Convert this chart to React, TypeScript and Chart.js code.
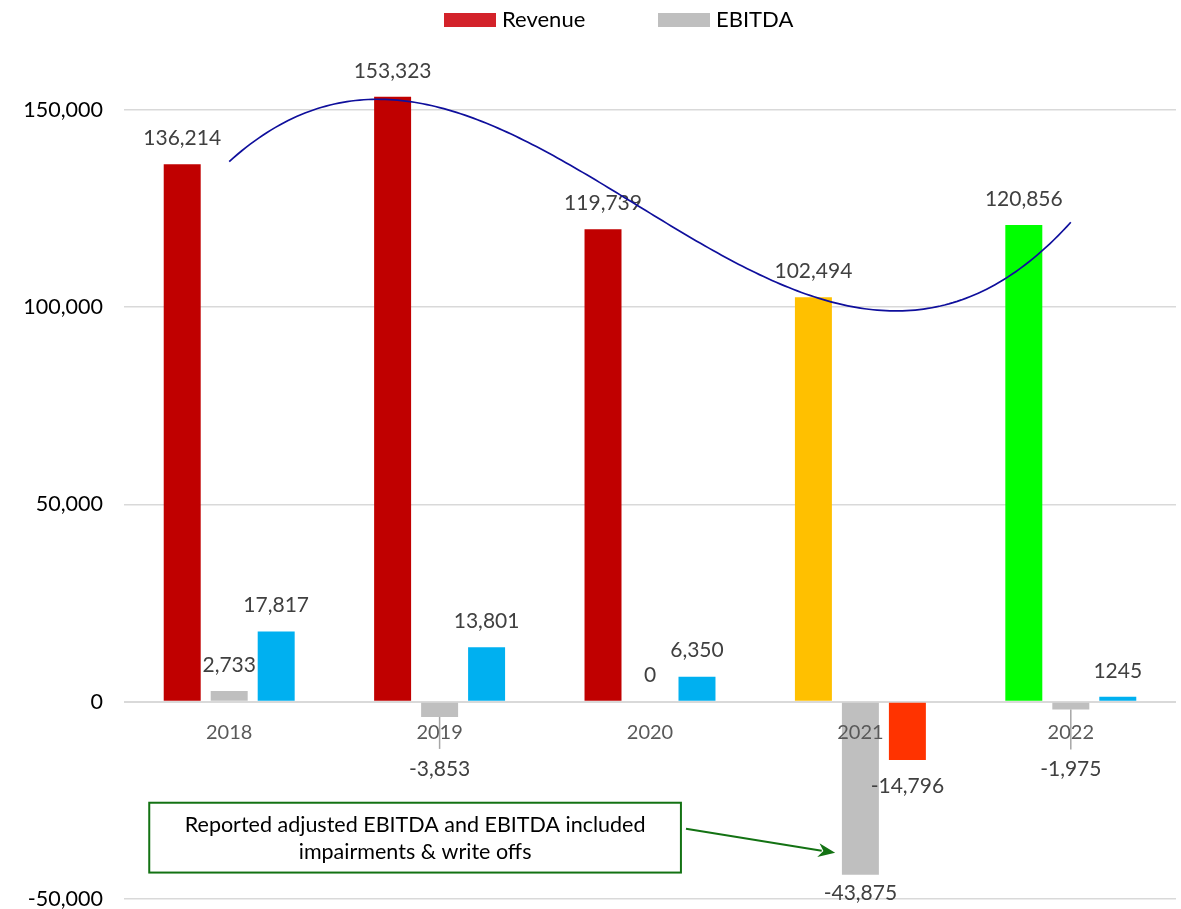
import React, { useEffect, useRef } from 'react';
import { Chart, registerables } from 'chart.js';

Chart.register(...registerables);

// ---------- data ----------
const categories = ['2018', '2019', '2020', '2021', '2022'];
const revenue = [136214, 153323, 119739, 102494, 120856];
const ebitda = [2733, -3853, 0, -43875, -1975];
const adjustedEbitda = [17817, 13801, 6350, -14796, 1245];
const adjustedEbitdaLabels = ['17,817', '13,801', '6,350', '-14,796', '1245'];
const yTicks = [-50000, 0, 50000, 100000, 150000];
const annotationLines = ['Reported adjusted EBITDA and EBITDA included', 'impairments & write offs'];

// ---------- styles ----------
const revenueColors = ['#C00000', '#C00000', '#C00000', '#FFC000', '#00FF00'];
const ebitdaColor = '#BFBFBF';
const adjustedColors = ['#00B0F0', '#00B0F0', '#00B0F0', '#FF3300', '#00B0F0'];
const FONT = 'Lato, "Open Sans", sans-serif';
const LABEL_GAP = 26;
// extra label displacement (px) and leader lines, per series
const ebitdaLabelShift = [0, 26, 0, -8, 34];
const ebitdaLeader = [false, true, false, false, true];

function fmt(v: number): string {
  return v.toLocaleString('en-US');
}

// least-squares polynomial fit (like Excel's polynomial trendline)
function polyFit(ys: number[], degree: number): number[] {
  const n = degree + 1;
  const A: number[][] = [];
  for (let r = 0; r < n; r++) {
    const row: number[] = [];
    for (let c = 0; c < n; c++) {
      let s = 0;
      ys.forEach((_, i) => (s += Math.pow(i, r + c)));
      row.push(s);
    }
    let b = 0;
    ys.forEach((y, i) => (b += y * Math.pow(i, r)));
    row.push(b);
    A.push(row);
  }
  for (let i = 0; i < n; i++) {
    let p = i;
    for (let k = i + 1; k < n; k++) if (Math.abs(A[k][i]) > Math.abs(A[p][i])) p = k;
    [A[i], A[p]] = [A[p], A[i]];
    for (let k = i + 1; k < n; k++) {
      const f = A[k][i] / A[i][i];
      for (let c = i; c <= n; c++) A[k][c] -= f * A[i][c];
    }
  }
  const x = new Array(n).fill(0);
  for (let i = n - 1; i >= 0; i--) {
    let s = A[i][n];
    for (let c = i + 1; c < n; c++) s -= A[i][c] * x[c];
    x[i] = s / A[i][i];
  }
  return x;
}

const overlayPlugin = {
  id: 'overlay',
  afterDatasetsDraw(chart: any) {
    const ctx: CanvasRenderingContext2D = chart.ctx;
    const xs = chart.scales.x;
    const ys = chart.scales.y;
    const zeroY = ys.getPixelForValue(0);

    // ----- category labels (drawn above the bars, as in the reference) -----
    ctx.save();
    ctx.font = `20px ${FONT}`;
    ctx.fillStyle = '#595959';
    ctx.textAlign = 'center';
    ctx.textBaseline = 'middle';
    categories.forEach((c, i) => {
      ctx.fillText(c, xs.getPixelForValue(i), zeroY + 31);
    });
    ctx.restore();

    // ----- data labels -----
    const sets = [
      { values: revenue, text: revenue.map(fmt), shift: revenue.map(() => 0), leader: revenue.map(() => false) },
      { values: ebitda, text: ebitda.map(fmt), shift: ebitdaLabelShift, leader: ebitdaLeader },
      { values: adjustedEbitda, text: adjustedEbitdaLabels, shift: adjustedEbitda.map(() => 0), leader: adjustedEbitda.map(() => false) },
    ];
    ctx.save();
    ctx.font = `21px ${FONT}`;
    ctx.textAlign = 'center';
    ctx.textBaseline = 'middle';
    sets.forEach((set, di) => {
      const meta = chart.getDatasetMeta(di);
      meta.data.forEach((bar: any, i: number) => {
        const v = set.values[i];
        const y = v >= 0 ? bar.y - LABEL_GAP - set.shift[i] : bar.y + LABEL_GAP + set.shift[i];
        if (set.leader[i]) {
          ctx.strokeStyle = '#A6A6A6';
          ctx.lineWidth = 1.5;
          ctx.beginPath();
          ctx.moveTo(bar.x, bar.y);
          ctx.lineTo(bar.x, y - 20);
          ctx.stroke();
        }
        ctx.fillStyle = '#404040';
        ctx.fillText(set.text[i], bar.x, y);
      });
    });
    ctx.restore();

    // ----- polynomial trendline (order 3) on revenue -----
    const coef = polyFit(revenue, 3);
    const evalPoly = (t: number) => coef.reduce((s, c, k) => s + c * Math.pow(t, k), 0);
    ctx.save();
    ctx.strokeStyle = '#0F0F9C';
    ctx.lineWidth = 1.7;
    ctx.beginPath();
    const steps = 200;
    for (let s = 0; s <= steps; s++) {
      const t = ((revenue.length - 1) * s) / steps;
      const px = xs.getPixelForValue(t);
      const py = ys.getPixelForValue(evalPoly(t));
      if (s === 0) ctx.moveTo(px, py);
      else ctx.lineTo(px, py);
    }
    ctx.stroke();
    ctx.restore();

    // ----- annotation box + arrow -----
    const bx0 = xs.getPixelForValue(-0.38);
    const bx1 = xs.getPixelForValue(2.147);
    const by0 = ys.getPixelForValue(-25600);
    const by1 = ys.getPixelForValue(-43300);
    ctx.save();
    ctx.fillStyle = '#FFFFFF';
    ctx.fillRect(bx0, by0, bx1 - bx0, by1 - by0);
    ctx.strokeStyle = '#137213';
    ctx.lineWidth = 2;
    ctx.strokeRect(bx0, by0, bx1 - bx0, by1 - by0);
    ctx.fillStyle = '#000000';
    ctx.font = `21.5px ${FONT}`;
    ctx.textAlign = 'center';
    ctx.textBaseline = 'middle';
    const cx = (bx0 + bx1) / 2;
    const cy = (by0 + by1) / 2;
    ctx.fillText(annotationLines[0], cx, cy - 13);
    ctx.fillText(annotationLines[1], cx, cy + 14);

    const ax0 = xs.getPixelForValue(2.171);
    const ay0 = ys.getPixelForValue(-32200);
    const ax1 = xs.getPixelForValue(2.88);
    const ay1 = ys.getPixelForValue(-38300);
    const ang = Math.atan2(ay1 - ay0, ax1 - ax0);
    const headLen = 17;
    const headW = 7;
    ctx.strokeStyle = '#137213';
    ctx.fillStyle = '#137213';
    ctx.lineWidth = 2;
    ctx.beginPath();
    ctx.moveTo(ax0, ay0);
    ctx.lineTo(ax1 - headLen * 0.8 * Math.cos(ang), ay1 - headLen * 0.8 * Math.sin(ang));
    ctx.stroke();
    ctx.beginPath();
    ctx.moveTo(ax1, ay1);
    ctx.lineTo(ax1 - headLen * Math.cos(ang) + headW * Math.sin(ang), ay1 - headLen * Math.sin(ang) - headW * Math.cos(ang));
    ctx.lineTo(ax1 - headLen * 0.7 * Math.cos(ang), ay1 - headLen * 0.7 * Math.sin(ang));
    ctx.lineTo(ax1 - headLen * Math.cos(ang) - headW * Math.sin(ang), ay1 - headLen * Math.sin(ang) + headW * Math.cos(ang));
    ctx.closePath();
    ctx.fill();
    ctx.restore();

    // ----- legend (Revenue, EBITDA) -----
    const legendItems = [
      { text: 'Revenue', color: '#D3222A', x: 444 },
      { text: 'EBITDA', color: ebitdaColor, x: 658 },
    ];
    ctx.save();
    ctx.font = `22px ${FONT}`;
    ctx.textAlign = 'left';
    ctx.textBaseline = 'middle';
    legendItems.forEach((it) => {
      ctx.fillStyle = it.color;
      ctx.fillRect(it.x, 13, 52, 14);
      ctx.fillStyle = '#000000';
      ctx.fillText(it.text, it.x + 58, 20);
    });
    ctx.restore();
  },
};

export default function App() {
  const canvasRef = useRef<HTMLCanvasElement | null>(null);

  useEffect(() => {
    if (!canvasRef.current) return;
    const chart = new Chart(canvasRef.current, {
      type: 'bar',
      data: {
        labels: categories,
        datasets: [
          { label: 'Revenue', data: revenue, backgroundColor: revenueColors },
          { label: 'EBITDA', data: ebitda, backgroundColor: ebitdaColor },
          { label: 'Adjusted EBITDA', data: adjustedEbitda, backgroundColor: adjustedColors },
        ],
      },
      options: {
        animation: false,
        responsive: false,
        devicePixelRatio: 1,
        datasets: { bar: { barPercentage: 0.787, categoryPercentage: 0.67 } },
        layout: { padding: { top: 31, left: 22, right: 5, bottom: 10 } },
        plugins: {
          legend: { display: false },
          tooltip: { enabled: false },
        },
        scales: {
          x: {
            display: false,
          },
          y: {
            min: -50000,
            max: 170000,
            afterBuildTicks: (axis: any) => {
              axis.ticks = yTicks.map((v) => ({ value: v }));
            },
            afterFit: (axis: any) => {
              axis.width = 102;
              axis.paddingTop = 0;
              axis.paddingBottom = 0;
            },
            grid: {
              color: '#D9D9D9',
              lineWidth: (c: any) => (c.tick && c.tick.value === 0 ? 2 : 1.5),
              drawTicks: false,
            },
            border: { display: false },
            ticks: {
              color: '#000000',
              font: { family: FONT, size: 21.5, lineHeight: 1.0 },
              padding: 21,
              callback: (v: any) => fmt(Number(v)),
            },
          },
        },
      },
      plugins: [overlayPlugin],
    });
    return () => chart.destroy();
  }, []);

  return (
    <div style={{ position: 'absolute', left: 0, top: 0, width: 1181, height: 909, background: '#FFFFFF', overflow: 'hidden' }}>
      <canvas ref={canvasRef} width={1181} height={909} style={{ display: 'block', width: 1181, height: 909 }} />
    </div>
  );
}
